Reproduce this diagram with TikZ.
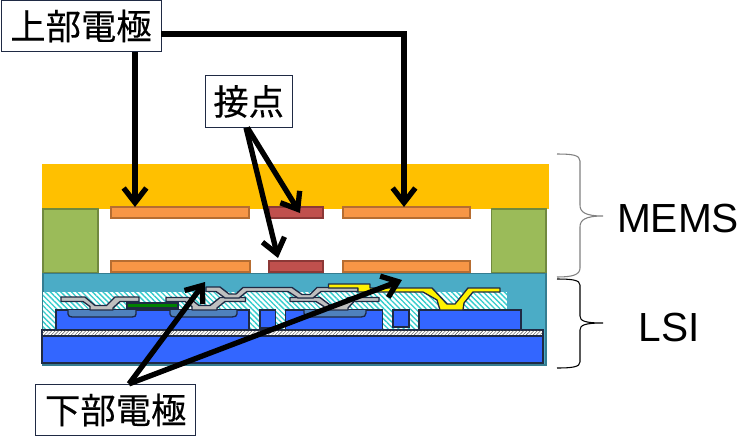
\documentclass[tikz,border=0pt]{standalone}
\usepackage{fontspec}
\setmainfont{Liberation Sans}
\newfontfamily\cjk[FakeBold=0.25]{Noto Sans CJK JP}
\usetikzlibrary{arrows.meta,patterns.meta,calc}
\definecolor{capc}{HTML}{FFC000}
\definecolor{pillar}{HTML}{9BBB59}
\definecolor{pillarb}{HTML}{71893F}
\definecolor{elec}{HTML}{F79646}
\definecolor{elecb}{HTML}{B66D31}
\definecolor{cont}{HTML}{C0504D}
\definecolor{contb}{HTML}{8C3836}
\definecolor{lsi}{HTML}{4BACC6}
\definecolor{lsib}{HTML}{357D91}
\definecolor{blu}{HTML}{3366FF}
\definecolor{wellc}{HTML}{4F81BD}
\definecolor{ink}{HTML}{1F2A44}
\definecolor{hatchc}{HTML}{33CCCC}
\tikzset{
  x=0.75pt,y=-0.75pt,
  pillarbox/.style={fill=pillar,draw=pillarb,line width=1pt},
  elecbox/.style={fill=elec,draw=elecb,line width=1pt},
  contbox/.style={fill=cont,draw=contb,line width=1pt},
  blockbox/.style={fill=blu,draw=ink,line width=1.2pt},
  wellbox/.style={fill=wellc,draw=ink,line width=1pt},
  metal/.style={fill=gray!50,draw=ink,line width=1pt,line join=round},
  ymetal/.style={fill=yellow,draw=ink,line width=1pt,line join=round},
  hatchzone/.style={pattern={Lines[angle=-45,distance=2.8pt,line width=1pt]},pattern color=hatchc},
  label/.style={draw=ink,fill=white,line width=.7pt,inner sep=0pt,font=\cjk\fontsize{26.5}{26.5}\selectfont},
  sidetext/.style={font=\fontsize{30.5}{32}\selectfont,inner sep=0pt},
  callout/.style={line width=4pt,-{Straight Barb[length=11pt,width=17pt,line width=4pt]}},
  bracket/.style={line width=.8pt},
}
\begin{document}
\begin{tikzpicture}
\useasboundingbox (0,0) rectangle (747,437);
% MEMS
\fill[capc] (42,164) rectangle (549,209);
\draw[pillarbox] (43,209) rectangle (98,273);
\draw[pillarbox] (491.5,209) rectangle (546,273);
\draw[elecbox] (111,207) rectangle (249,218);
\draw[contbox] (269,207) rectangle (323,218);
\draw[elecbox] (343,207) rectangle (470,218);
\draw[elecbox] (111,261) rectangle (250,272);
\draw[contbox] (269,261) rectangle (323,272);
\draw[elecbox] (343,261) rectangle (470,272);
% LSI
\draw[fill=lsi,draw=lsib,line width=1.2pt] (43,273.5) rectangle (546,365);
\fill[white] (43,292) rectangle (507,330);
\fill[hatchzone] (43,292) rectangle (507,330);
\draw[blockbox] (56,310) rectangle (249,330);
\draw[blockbox] (260,310) rectangle (275.5,328);
\draw[blockbox] (285.5,310) rectangle (382.5,330);
\draw[blockbox] (393,310) rectangle (409,327);
\draw[blockbox] (419,310) rectangle (521,330);
\draw[wellbox] (68,310) -- (68,314) .. controls (68,316) and (70,317) .. (72,317) -- (132,317) .. controls (135,317) and (136,316) .. (136,314) -- (136,310);
\draw[wellbox] (170,310) -- (170,314) .. controls (170,316) and (172,317) .. (175,317) -- (232,317) .. controls (235,317) and (237,316) .. (237,314) -- (237,310);
\draw[wellbox] (304,310) -- (304,313) .. controls (304,316) and (306,317) .. (309,317) -- (361,317) .. controls (364,317) and (366,316) .. (366,313) -- (366,310);
\draw[fill=white,draw=ink,line width=1.2pt,postaction={pattern={Lines[angle=45,distance=1.8pt,line width=.3pt]},pattern color=black!70}] (42,330) rectangle (543,336);
\draw[blockbox] (42,336) rectangle (543,363);
% metal layers
\draw[fill=green!50!black,draw=ink,line width=1pt] (127,303) rectangle (178,308);
\draw[metal] (61,297) -- (85,297) -- (95,305.5) -- (106.5,305.5) -- (115,297) -- (139,297) -- (139,301.5) -- (120,301.5) -- (113,308) -- (113,310) -- (90,310) -- (90,306.5) -- (83,301.5) -- (61,301.5) -- cycle;
\draw[metal] (166,297.5) -- (189,297.5) -- (199,305.5) -- (210,305.5) -- (220,297.5) -- (245.5,297.5) -- (245.5,301.5) -- (225,301.5) -- (217,308) -- (217,310) -- (192,310) -- (192,306.5) -- (185,301.5) -- (166,301.5) -- cycle;
\draw[metal] (290,297.5) -- (320,297.5) -- (330,305) -- (341,305) -- (348,297.5) -- (379,297.5) -- (379,301.5) -- (354,301.5) -- (348,308) -- (348,310) -- (324,310) -- (324,306.5) -- (316,301.5) -- (290,301.5) -- cycle;
\draw[metal] (206,287) -- (220,287) -- (229,294) -- (236,294) -- (243,287.5) -- (292,287.5) -- (302,294.5) -- (310,294.5) -- (317,287.5) -- (358,287.5) -- (358,291.5) -- (321,291.5) -- (313,298) -- (298,298) -- (288,291.5) -- (247,291.5) -- (239,298) -- (225,298) -- (216,291.5) -- (206,291.5) -- cycle;
\draw[ymetal] (328.5,284) -- (370,284) -- (370,288) -- (432,288) -- (447,304) -- (455,304) -- (468,288) -- (500,288) -- (500,292) -- (473,292) -- (464,303) -- (463,310) -- (440,310) -- (437,300) -- (423,292) -- (358,292) -- (358,288) -- (328.5,288) -- cycle;
% braces
\draw[bracket,draw=gray] (557,154) .. controls (572,154) and (580,155) .. (580,161) -- (580,205) .. controls (580,212) and (585,216) .. (603,216) .. controls (585,216) and (580,220) .. (580,227) -- (580,268) .. controls (580,275) and (572,277) .. (557,277);
\draw[bracket,draw=black] (557,279) .. controls (572,279) and (580,280) .. (580,285) -- (580,316) .. controls (580,321) and (585,323) .. (603,323) .. controls (585,323) and (580,325) .. (580,330) -- (580,362) .. controls (580,367) and (572,368) .. (557,368);
\node[sidetext] (mems) at (678,218) {MEMS};
\node[sidetext] (lsilabel) at (669,327) {LSI};
% labels
\node[label,minimum width=120pt,minimum height=38.5pt] (upper) at (81,26) {上部電極};
\node[label,minimum width=65.5pt,minimum height=38.5pt] (contact) at (248.7,101.5) {接点};
\node[label,minimum width=120pt,minimum height=38.5pt] (lower) at (115.7,410) {下部電極};
% callouts
\coordinate (tipA) at (135,207);
\coordinate (tipB) at (404,207);
\coordinate (tipC) at (300,213);
\coordinate (tipD) at (278,258);
\coordinate (tipE) at (205,282);
\coordinate (tipF) at (402,280);
\draw[callout] (upper.south -| tipA) -- (tipA);
\draw[callout] (upper.east |- 0,34) -- (tipB |- 0,34) -- (tipB);
\draw[callout] ([xshift=-1pt]contact.south) -- (tipC);
\draw[callout] ([xshift=-2pt]contact.south) -- (tipD);
\draw[callout] ([xshift=10pt]lower.north) -- (tipE);
\draw[callout] ([xshift=10pt]lower.north) -- (tipF);
\end{tikzpicture}
\end{document}
